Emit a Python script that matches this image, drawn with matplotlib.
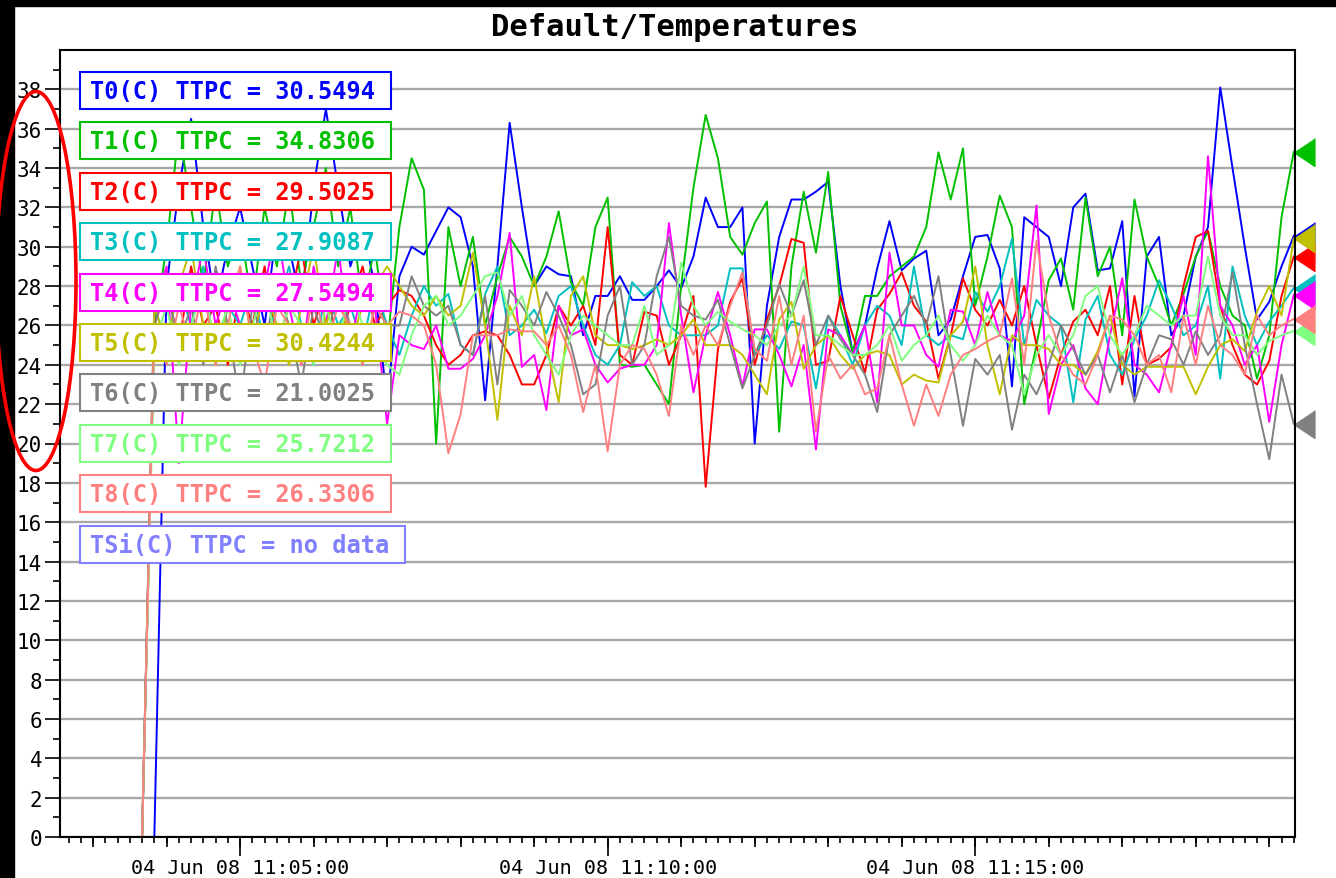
import numpy as np
import pandas as pd
import matplotlib
matplotlib.use("Agg")
import matplotlib.pyplot as plt
import matplotlib.dates as mdates
from matplotlib.patches import Rectangle, Ellipse

# samples every 10 s
times = pd.date_range("2008-06-04 11:03:40", periods=95, freq="10s")

names = ["T0", "T1", "T2", "T3", "T4", "T5", "T6", "T7", "T8", "TSi"]
ttpc = [30.5494, 34.8306, 29.5025, 27.9087, 27.5494, 30.4244, 21.0025, 25.7212, 26.3306, None]
colors = ["#0000ff", "#00c000", "#ff0000", "#00c0c0", "#ff00ff",
          "#c0c000", "#808080", "#80ff80", "#ff8080", "#8080ff"]

t0 = [np.nan, 0, 28, 33, 36.5, 31, 27, 30, 32, 29,
      26, 31, 30, 27, 33, 37, 33, 29, 31, 28,
      22, 28.5, 30, 29.6, 30.8, 32, 31.5, 29, 22.2, 29,
      36.3, 32, 28, 29, 28.6, 28.5, 25.5, 27.5, 27.5, 28.5,
      27.3, 27.3, 28, 28.8, 27.9, 29.5, 32.5, 31, 31, 32,
      20, 27, 30.5, 32.4, 32.4, 32.8, 33.3, 28, 24.6, 26,
      28.9, 31.3, 28.8, 29.4, 29.8, 25.5, 26.3, 28.5, 30.5, 30.6,
      28.9, 22.9, 31.5, 31, 30.5, 28, 32, 32.7, 28.8, 28.9,
      31.3, 22.4, 29.5, 30.5, 25.5, 26.5, 29.5, 31, 38.1, 34,
      30, 26.3, 27.2, 29, 30.55]
t1 = [0, 26, 30, 36, 32, 28, 33, 29, 31, 27,
      32, 29, 33, 28, 31, 34, 29, 32, 27, 30,
      25, 31, 34.5, 32.9, 20, 31, 28, 30.5, 26, 28.5,
      30.5, 29.5, 28, 29.5, 31.8, 28.2, 27, 31, 32.5, 24,
      23.9, 24, 23, 22, 28, 33, 36.7, 34.5, 30.5, 29.6,
      31.2, 32.3, 20.6, 29, 32.8, 29.7, 33.8, 27, 24.6, 27.5,
      27.5, 28.5, 29, 29.5, 31, 34.8, 32.4, 35, 27, 29.5,
      32.6, 31, 22, 25, 28.3, 29.4, 26.8, 32.5, 28.5, 30,
      25.5, 32.4, 29.5, 28, 26, 27.6, 29.5, 30.8, 28, 26.5,
      26, 23.3, 25.5, 31.5, 34.83]
t2 = [0, 26, 28, 25, 29, 26, 27, 24, 28, 26,
      29, 25, 27, 30, 26, 28, 25, 27, 29, 26,
      27, 27.8, 27.5, 26.5, 25, 24, 24.5, 25.5, 25.7, 25.5,
      24.5, 23, 23, 24.5, 27, 26, 27, 25, 31, 24.5,
      24, 26.7, 26.5, 24, 25.5, 27.5, 17.8, 24.8, 27.2, 28.4,
      24, 26.3, 28, 30.4, 30.2, 24, 24.2, 27.5, 25.5, 23.6,
      26.8, 27.6, 28.7, 27, 26.2, 23.3, 25.5, 28.4, 26.8, 26,
      27.3, 26, 28, 25, 22.3, 24.5, 26.2, 26.8, 25.5, 28,
      23, 27.5, 24, 24.3, 24.9, 28, 30.5, 30.8, 27, 25,
      23.5, 23, 24.2, 27.5, 29.5]
t3 = [0, 27, 25, 28, 26, 29, 24, 27, 26, 28,
      25, 27, 29, 26, 24, 28, 26, 27, 25, 28,
      26, 24.5, 26.5, 28, 27, 27.6, 25, 24.5, 27.6, 29,
      25.5, 26, 26.8, 25.6, 27.5, 28, 26, 24.5, 24, 25,
      28.2, 27.5, 28, 26, 25.5, 25.5, 25.5, 26, 28.9, 28.9,
      24.5, 25.5, 24.8, 26.2, 26, 22.8, 26.5, 25.5, 24, 26,
      27, 26.5, 25, 29, 25.5, 25, 25.5, 25.3, 27.7, 26.7,
      28, 30.4, 25, 27.3, 26.5, 26, 22.1, 26.3, 27.5, 24.5,
      23.5, 25.3, 26.5, 28.3, 27, 25.5, 26, 28, 23.3, 29,
      26.5, 25, 26.2, 27, 27.91]
t4 = [0, 27, 29, 19, 27, 30, 26, 28, 26, 25,
      28, 31, 27, 24, 29, 26, 30, 25, 28, 27,
      21, 25.5, 25, 24.8, 26, 23.8, 23.8, 24.3, 25.5, 27.5,
      30.7, 23.9, 24.5, 21.7, 27, 25.5, 25.8, 24, 23.1, 23.8,
      24, 24, 25, 31.2, 26.5, 22.6, 25.5, 27.7, 25.5, 22.9,
      25.8, 25.8, 24.5, 22.9, 25, 19.7, 25.8, 25.5, 24.5, 26,
      22.1, 29.7, 26, 26, 24.5, 23.9, 26.8, 26.7, 25, 27.7,
      25.5, 25.2, 26.5, 32.1, 21.5, 24, 25, 22.8, 22, 25.5,
      28.4, 24, 23.5, 22.6, 25, 27.5, 24.5, 34.6, 27, 26,
      24, 25, 21.1, 25, 27.55]
t5 = [0, 27, 25, 28, 30, 26, 24, 27, 29, 25,
      28, 26, 24, 27, 30, 26, 28, 25, 27, 28,
      29, 28, 27, 26.5, 27.5, 26.5, 27, 29.7, 26, 21.2,
      27, 25.5, 28.5, 25, 22.1, 27.5, 28.5, 25.5, 25, 25,
      24.8, 25, 25.3, 25, 25.5, 26.3, 25, 25, 25, 24.5,
      23.5, 22.5, 26.3, 27.2, 23.8, 25, 25.5, 24.5, 23.8, 24.5,
      24.7, 24.5, 23, 23.5, 23.2, 23.1, 25.5, 26.2, 29, 25,
      22.5, 25.5, 25, 25, 24.8, 24, 24, 23.5, 24.7, 26.5,
      24, 23.5, 23.9, 23.9, 23.9, 23.9, 22.5, 23.9, 25, 25.3,
      24.7, 26.7, 28, 26.5, 30.42]
t6 = [0, 26, 28, 25, 27, 24, 29, 26, 22, 27,
      25, 28, 26, 23, 27, 25, 28, 26, 24, 27,
      26, 26, 28.5, 27, 26.5, 27, 25, 24.5, 27.5, 23,
      27.8, 27, 26, 27.7, 26.5, 25, 22.5, 23, 26.5, 28,
      24, 25, 28.5, 30.5, 27, 26.5, 26.3, 27.3, 25, 22.8,
      24.5, 26, 28.1, 26.5, 28.3, 25, 26.5, 25.3, 24.5, 23.5,
      21.6, 25.5, 26.5, 27.5, 26, 28.5, 24.5, 20.9, 24.3, 23.5,
      24.5, 20.7, 23.5, 22.5, 24, 26, 24.8, 23.5, 24.5, 22.6,
      24.5, 22.1, 24, 25.5, 25.3, 24, 25.7, 24.5, 25.5, 28.7,
      25, 22, 19.2, 23.5, 21.0]
t7 = [0, 25, 27, 24, 26, 28, 25, 27, 24, 26,
      28, 25, 27, 26, 24, 27, 25, 28, 26, 25,
      24, 23.5, 25.5, 27, 27.5, 26, 26.5, 27.5, 28.5, 28.7,
      26.5, 27.5, 25.5, 24.5, 23.5, 25.5, 26.5, 26, 25.5, 25,
      25, 27, 24.5, 25, 29.2, 27, 26, 26.7, 26.2, 25.8,
      25.5, 25, 26, 26.5, 29, 25.5, 25.5, 25, 24.5, 24.5,
      25, 26, 24.2, 25, 25.5, 26.5, 25, 24.2, 25, 26.5,
      25.5, 25, 22.5, 24.5, 25.5, 24.5, 25.5, 27.5, 28, 25.5,
      24.5, 25.5, 27, 26.5, 26, 26.5, 26.5, 29.5, 26.5, 25.5,
      25.5, 24.5, 25.2, 25.5, 25.72]
t8 = [0, 26, 24, 27, 25, 28, 24, 26, 29, 25,
      23, 27, 26, 24, 28, 25, 27, 26, 24, 27,
      26, 26.7, 26.5, 26, 24, 19.5, 21.5, 25.5, 25.5, 25.5,
      25.8, 25.7, 25.7, 25, 26, 24.5, 21.6, 24, 19.6, 24,
      25, 24.8, 23.5, 21.4, 26, 24.5, 26, 25, 27, 28.7,
      24.8, 24.2, 27.5, 24, 26.5, 20.6, 24.5, 23.3, 24, 22.5,
      22.8, 25.5, 23, 20.9, 23, 21.4, 23.5, 24.5, 24.8, 25.2,
      25.5, 28.4, 24, 30.3, 26.5, 24.5, 23.5, 23, 24.5, 26.5,
      26.3, 25.5, 24, 24.5, 22.6, 26.5, 24, 27, 25, 24.5,
      23.5, 26.5, 25.5, 26, 26.33]

series = [t0, t1, t2, t3, t4, t5, t6, t7, t8]

W, H = 1336, 879
plt.rcParams["font.family"] = ["DejaVu Sans Mono"]

fig = plt.figure(figsize=(W / 100, H / 100), dpi=100)
ax = fig.add_axes([60 / W, 41 / H, 1235 / W, 787 / H])

for vals, c in zip(series, colors):
    ax.plot(times, vals, color=c, lw=1.4)

# value markers just right of the plot
tri = [(-0.75, 0), (0.75, -1), (0.75, 1)]
for val, c in zip(ttpc[:9], colors):
    ax.plot([1.0069], [val], marker=tri, ms=20, color=c, ls="none",
            transform=ax.get_yaxis_transform(), clip_on=False)

ax.set_xlim(pd.Timestamp("2008-06-04 11:02:33"), pd.Timestamp("2008-06-04 11:19:21"))
ax.set_ylim(0, 40)
ax.set_yticks(np.arange(0, 39, 2))
ax.set_yticks(np.arange(1, 40, 2), minor=True)
ax.grid(axis="y", which="major", color="#a8a8a8", lw=1.7)
ax.set_axisbelow(True)

ax.xaxis.set_major_locator(mdates.MinuteLocator(byminute=range(0, 60, 5)))
ax.xaxis.set_major_formatter(mdates.DateFormatter("%d %b %y %H:%M:%S"))
ax.xaxis.set_minor_locator(mdates.SecondLocator(bysecond=range(0, 60, 10)))
ax.tick_params(axis="x", which="major", length=14, width=1.2, pad=1, labelsize=14.5)
ax.tick_params(axis="x", which="minor", length=4.3, width=1.2)
ax.tick_params(axis="y", which="major", length=10.8, width=1.2, pad=2, labelsize=15)
ax.tick_params(axis="y", which="minor", length=5, width=1.2)
for sp in ax.spines.values():
    sp.set_linewidth(1.5)

sec = ax.secondary_xaxis("bottom")
sec.xaxis.set_major_locator(mdates.MinuteLocator())
sec.tick_params(length=7.2, width=1.2, labelbottom=False)
sec.spines["bottom"].set_visible(False)

fig.text(675 / W, 1 - 27 / H, "Default/Temperatures", ha="center", va="center",
         fontsize=22, fontweight="bold")

# legend boxes
for i, (nm, val, c) in enumerate(zip(names, ttpc, colors)):
    top = 73 + 50.4 * i
    txt = f"{nm}(C) TTPC = " + ("no data" if val is None else f"{val:.4f}")
    bw = 325 if val is None else 311
    fig.add_artist(Rectangle((80 / W, 1 - (top + 37) / H), bw / W, 37 / H,
                             transform=fig.transFigure, fc="white", ec=c, lw=1.5))
    fig.text(90 / W, 1 - (top + 19) / H, txt, ha="left", va="center",
             fontsize=17, fontweight="bold", color=c)

# black frame strips and red annotation ellipse
fig.add_artist(Rectangle((0, 1 - 7 / H), 1, 7 / H, transform=fig.transFigure,
                         color="black", zorder=5))
fig.add_artist(Rectangle((0, 0), 14 / W, 1, transform=fig.transFigure,
                         color="black", zorder=5))
fig.add_artist(Ellipse((36 / W, 1 - 282 / H), 80 / W, 379 / H, transform=fig.transFigure,
                       fill=False, ec="red", lw=2.6, zorder=6))

fig.savefig("out.png", dpi=100)
